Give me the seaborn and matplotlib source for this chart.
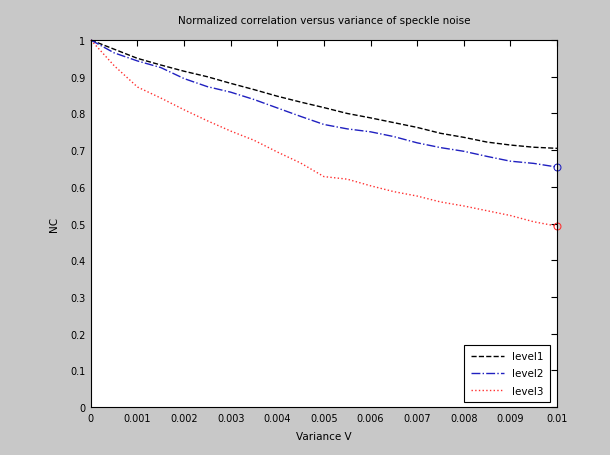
"""
Normalized correlation vs speckle noise variance, MATLAB-like look.
"""
import pandas as pd
import seaborn as sns
from matplotlib import pyplot as plt

variance = [0.0, 0.0005, 0.001, 0.0015, 0.002, 0.0025, 0.003, 0.0035,
            0.004, 0.0045, 0.005, 0.0055, 0.006, 0.0065, 0.007, 0.0075,
            0.008, 0.0085, 0.009, 0.0095, 0.01]
level1 = [1.0, 0.975, 0.95, 0.932, 0.915, 0.90, 0.882, 0.865, 0.847, 0.831,
          0.816, 0.80, 0.788, 0.775, 0.762, 0.746, 0.735, 0.722, 0.714,
          0.708, 0.705]
level2 = [1.0, 0.965, 0.943, 0.925, 0.895, 0.873, 0.858, 0.838, 0.815,
          0.792, 0.77, 0.758, 0.75, 0.737, 0.72, 0.707, 0.697, 0.683, 0.67,
          0.664, 0.654]
level3 = [1.0, 0.93, 0.872, 0.842, 0.81, 0.78, 0.752, 0.727, 0.695, 0.665,
          0.628, 0.621, 0.603, 0.587, 0.575, 0.559, 0.548, 0.535, 0.522,
          0.505, 0.493]
labels = ['level1', 'level2', 'level3']
x_ticks = [0, 0.001, 0.002, 0.003, 0.004, 0.005, 0.006, 0.007, 0.008,
           0.009, 0.01]
x_tick_labels = ['0', '0.001', '0.002', '0.003', '0.004', '0.005', '0.006',
                 '0.007', '0.008', '0.009', '0.01']
y_ticks = [0, 0.1, 0.2, 0.3, 0.4, 0.5, 0.6, 0.7, 0.8, 0.9, 1.0]
y_tick_labels = ['0', '0.1', '0.2', '0.3', '0.4', '0.5', '0.6', '0.7', '0.8',
                 '0.9', '1']

sns.set_style('white')
plt.rcParams['font.family'] = ['DejaVu Sans']
plt.rcParams['text.color'] = 'black'
plt.rcParams['axes.labelcolor'] = 'black'
plt.rcParams['xtick.color'] = 'black'
plt.rcParams['ytick.color'] = 'black'

df = pd.DataFrame({'variance': variance, 'level1': level1,
                   'level2': level2, 'level3': level3})

fig = plt.figure(figsize=(6.1, 4.56), dpi=100)
fig.patch.set_facecolor('#c8c8c8')
ax = fig.add_axes([0.149, 0.105, 0.764, 0.805])

styles = [('black', '--', None), ('#2020c0', '-.', 'o'), ('#ff3030', ':', 'o')]
for name, (color, ls, mk) in zip(labels, styles):
    sns.lineplot(data=df, x='variance', y=name, ax=ax, color=color,
                 linestyle=ls, linewidth=1.0, label=name, marker=mk,
                 markevery=[len(variance) - 1], markersize=5,
                 markerfacecolor='none', markeredgecolor=color, clip_on=False)

ax.set_xlim(0, 0.01)
ax.set_ylim(0, 1)
ax.set_xticks(x_ticks)
ax.set_xticklabels(x_tick_labels)
ax.set_yticks(y_ticks)
ax.set_yticklabels(y_tick_labels)
ax.tick_params(direction='in', length=4, labelsize=7, top=True, right=True,
               color='black', width=0.8, pad=4)
for spine in ax.spines.values():
    spine.set_color('black')
    spine.set_linewidth(0.8)

ax.set_title('Normalized correlation versus variance of speckle noise',
             fontsize=7.5, pad=12)
ax.set_xlabel('Variance V', fontsize=7.5, labelpad=6)
ax.set_ylabel('NC', fontsize=7.5, labelpad=8)

leg = ax.legend(loc='lower right', bbox_to_anchor=(0.985, 0.014),
                borderaxespad=0, fontsize=7.5, frameon=True, fancybox=False,
                edgecolor='black', framealpha=1, handlelength=3.2,
                labelspacing=0.7, borderpad=0.6)
leg.get_frame().set_linewidth(0.8)
for handle in leg.legend_handles:
    handle.set_marker('')

plt.savefig('out.png', dpi=100, facecolor=fig.get_facecolor())
